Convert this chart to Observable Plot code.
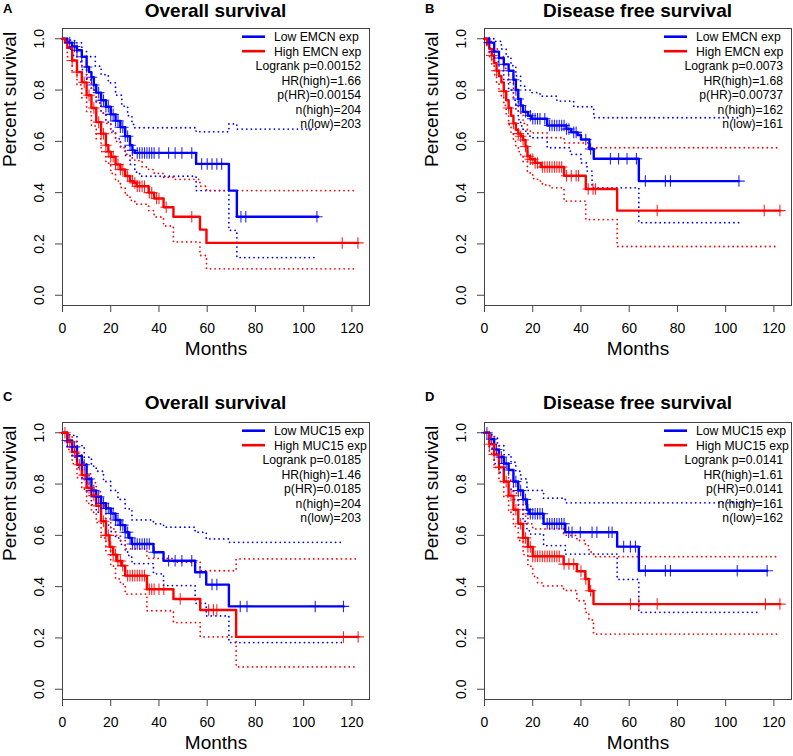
<!DOCTYPE html>
<html><head><meta charset="utf-8">
<script src="https://cdn.jsdelivr.net/npm/d3@7"></script>
<script src="https://cdn.jsdelivr.net/npm/@observablehq/plot@0.6"></script>
<style>
body{margin:0;background:#fff;}
#root{position:relative;width:793px;height:756px;overflow:hidden;background:#fff;font-family:"Liberation Sans",Arial,sans-serif;}
.panel{position:absolute;}
.title{position:absolute;font-weight:bold;font-size:19px;line-height:normal;text-align:center;white-space:nowrap;color:#000;}
.letter{position:absolute;font-weight:bold;font-size:13px;line-height:normal;color:#000;}
</style></head><body><div id="root"></div>
<script>
// ---------- texts ----------
const panelLetters = ["A", "B", "C", "D"];
const panelTitles = ["Overall survival", "Disease free survival", "Overall survival", "Disease free survival"];
const lowLabels = ["Low EMCN exp", "Low EMCN exp", "Low MUC15 exp", "Low MUC15 exp"];
const highLabels = ["High EMCN exp", "High EMCN exp", "High MUC15 exp", "High MUC15 exp"];
const statsA = ["Logrank p=0.00152", "HR(high)=1.66", "p(HR)=0.00154", "n(high)=204", "n(low)=203"];
const statsB = ["Logrank p=0.0073", "HR(high)=1.68", "p(HR)=0.00737", "n(high)=162", "n(low)=161"];
const statsC = ["Logrank p=0.0185", "HR(high)=1.46", "p(HR)=0.0185", "n(high)=204", "n(low)=203"];
const statsD = ["Logrank p=0.0141", "HR(high)=1.61", "p(HR)=0.0141", "n(high)=161", "n(low)=162"];
const xTicks = [0, 20, 40, 60, 80, 100, 120];
const yTicks = [0, 0.2, 0.4, 0.6, 0.8, 1.0];
const xLabel = "Months";
const yLabel = "Percent survival";

// ---------- panel A: Overall survival, EMCN ----------
const A_lowEst = [[0,1],[2,0.985],[4,0.97],[6,0.955],[8,0.93],[10,0.89],[11,0.87],[12,0.85],[13,0.82],[14,0.79],[16,0.76],[18,0.735],[20,0.705],[22,0.68],[24,0.655],[26,0.62],[28,0.585],[29,0.565],[30,0.555],[55.4,0.512],[69,0.408],[72.3,0.306],[106,0.306]];
const A_lowUp = [[0,1],[3,0.995],[5,0.984],[8,0.95],[10,0.93],[13.6,0.893],[16,0.86],[19,0.828],[22,0.78],[24.6,0.737],[27,0.7],[28.8,0.666],[30,0.653],[55.4,0.637],[69,0.668],[72.3,0.648],[106,0.648]];
const A_lowLo = [[0,1],[2,0.96],[4,0.935],[6,0.91],[8,0.88],[10,0.84],[12,0.8],[14,0.75],[16,0.71],[18,0.675],[20,0.64],[22,0.61],[24,0.58],[26,0.545],[28,0.51],[30,0.48],[32,0.464],[55.4,0.408],[69,0.253],[72.3,0.147],[106,0.147]];
const A_highEst = [[0,1],[1,0.985],[2,0.965],[4,0.915],[6,0.87],[8,0.83],[10,0.78],[12,0.73],[14,0.675],[16,0.63],[18,0.585],[19,0.56],[20,0.54],[22,0.51],[24,0.49],[26,0.465],[28,0.445],[29.4,0.438],[30.8,0.425],[35.7,0.40],[38,0.377],[41.9,0.343],[46,0.306],[57,0.256],[59.7,0.204],[122.5,0.204]];
const A_highUp = [[0,1],[2,0.99],[4,0.965],[6,0.93],[8,0.89],[10,0.845],[12,0.8],[14,0.75],[16,0.71],[18,0.67],[20,0.635],[22,0.6],[24,0.575],[26,0.55],[28,0.535],[30,0.525],[33,0.5],[35.7,0.49],[38,0.475],[41.9,0.46],[46,0.452],[57,0.425],[59.7,0.408],[121.5,0.408]];
const A_highLo = [[0,1],[2,0.93],[4,0.875],[6,0.82],[8,0.77],[10,0.715],[12,0.66],[14,0.61],[16,0.56],[18,0.515],[20,0.475],[22,0.445],[24,0.42],[26,0.39],[28,0.37],[30,0.355],[35.7,0.33],[38,0.305],[41.9,0.27],[46,0.208],[57,0.155],[59.7,0.103],[121.5,0.103]];
const A_lowCens = [3,5,6,8,10,12,13,15,16,17,18,19,20,21,22,23,24,25,26,27,28,29,31,32,33,34,35,36,37,38,40,44,46.7,49.5,53.6,57.7,60,62,64,66,74,76,105.5];
const A_highCens = [4,6,9,11,13,15,16,17,18,19,20,21,22,23,24,25,27,29,30,31,32,33,34,36,37,39,40,43,53.6,116,122.5];

// ---------- panel B: Disease free survival, EMCN ----------
const B_lowEst = [[0,1],[2,0.985],[4,0.95],[6,0.925],[8,0.9],[10,0.875],[12,0.84],[13,0.8],[14,0.765],[15,0.74],[16,0.715],[18,0.7],[19.5,0.688],[26,0.662],[34,0.648],[36,0.635],[38.6,0.625],[40,0.607],[43.5,0.57],[45.3,0.532],[64,0.445],[105.5,0.445]];
const B_lowUp = [[0,1],[4,0.99],[7,0.96],[9,0.93],[11,0.895],[13,0.855],[15,0.815],[17,0.8],[19,0.79],[23,0.776],[30,0.757],[37,0.735],[45.3,0.692],[105.5,0.692]];
const B_lowLo = [[0,1],[2,0.96],[4,0.91],[6,0.875],[8,0.84],[10,0.8],[12,0.76],[13,0.72],[14,0.685],[15,0.66],[16,0.64],[18,0.62],[19.5,0.614],[26,0.575],[35.6,0.549],[40,0.516],[42.5,0.484],[44.6,0.419],[64,0.283],[105.5,0.283]];
const B_highEst = [[0,1],[1,0.98],[2,0.96],[3,0.935],[4,0.905],[5,0.875],[6,0.855],[7,0.83],[8,0.795],[9,0.76],[10,0.73],[11,0.7],[12,0.67],[13,0.645],[14,0.63],[15,0.62],[16,0.605],[17,0.58],[17.8,0.542],[19,0.53],[21,0.516],[23.4,0.5],[33,0.466],[42,0.414],[55,0.33],[122.5,0.33]];
const B_highUp = [[0,1],[2,0.99],[4,0.96],[6,0.93],[8,0.885],[10,0.83],[12,0.77],[14,0.71],[16,0.67],[17.8,0.64],[19,0.633],[26,0.614],[33,0.594],[43,0.575],[121.5,0.575]];
const B_highLo = [[0,1],[1,0.97],[2,0.93],[3,0.895],[4,0.86],[5,0.83],[6,0.8],[7,0.77],[8,0.74],[9,0.7],[10,0.665],[11,0.63],[12,0.6],[13,0.58],[14,0.56],[15,0.54],[16,0.52],[17.8,0.477],[20,0.455],[22,0.445],[24,0.43],[27,0.419],[33,0.367],[42,0.295],[55,0.19],[121.5,0.19]];
const B_lowCens = [2,4,6,8,10,12,13,14,15,17,19,20,21,22,23,25,27,28,29,30,31,32,33,34,35,37,38,42,44,52.2,55.6,59.1,63,66.7,75,77.1,105.5];
const B_highCens = [3,5,8,10,12,14,15,16,17,18,19,20,21,22,24,25,26,27,28,29,30,31,32,34,36,38,39,43,45,46,71.6,116,122.5];

// ---------- panel C: Overall survival, MUC15 ----------
const C_lowEst = [[0,1],[2,0.97],[4,0.945],[6,0.91],[8,0.875],[10,0.82],[12,0.775],[14,0.75],[16,0.725],[18,0.705],[20,0.685],[22,0.66],[24,0.64],[26,0.612],[27.5,0.59],[28.8,0.566],[37.7,0.534],[41.9,0.501],[55,0.456],[59.6,0.408],[69,0.323],[116.6,0.323]];
const C_lowUp = [[0,1],[3,0.99],[6,0.95],[9,0.905],[12,0.87],[14,0.85],[17,0.81],[20,0.775],[23,0.74],[26,0.703],[28.8,0.66],[37.7,0.645],[41.9,0.632],[55,0.612],[59.6,0.586],[69,0.573],[116,0.573]];
const C_lowLo = [[0,1],[2,0.945],[4,0.905],[6,0.865],[8,0.825],[10,0.77],[12,0.72],[14,0.69],[16,0.665],[18,0.64],[20,0.615],[22,0.59],[24,0.565],[26,0.535],[27.5,0.515],[28.8,0.49],[37.7,0.45],[41.9,0.404],[55,0.335],[59.6,0.286],[69,0.182],[116,0.182]];
const C_highEst = [[0,1],[2,0.965],[4,0.925],[6,0.875],[8,0.835],[10,0.785],[12,0.755],[14,0.715],[16,0.655],[18,0.6],[19.5,0.555],[21,0.525],[22.5,0.5],[24.5,0.482],[26,0.443],[35,0.39],[46,0.352],[57.1,0.309],[72,0.204],[122.6,0.204]];
const C_highUp = [[0,1],[2,0.99],[4,0.965],[6,0.92],[8,0.885],[10,0.84],[12,0.805],[14,0.77],[16,0.715],[18,0.665],[20,0.625],[22,0.6],[24,0.58],[26,0.547],[35,0.51],[46,0.495],[57.1,0.462],[72,0.508],[122,0.508]];
const C_highLo = [[0,1],[2,0.935],[4,0.88],[6,0.825],[8,0.78],[10,0.725],[12,0.69],[14,0.65],[16,0.59],[18,0.54],[20,0.48],[22,0.43],[24,0.41],[26,0.371],[35,0.306],[46,0.26],[57.1,0.204],[72,0.087],[122,0.087]];
const C_lowCens = [2,4,5,6,8,9,10,11,12,13,14,15,16,17,18,19,20,21,22,23,24,25,26,27,28,29,30,31,32,33,34,35,36,38,44,46.7,49.5,53.6,57,62,64,73.7,76.5,104.8,116.5];
const C_highCens = [1,3,5,7,9,11,13,15,17,18,19,20,21,22,23,24,25,27,28,29,30,31,32,33,34,36,37,38,40,42,48.8,60.6,62.6,64,116.5,122.6];

// ---------- panel D: Disease free survival, MUC15 ----------
const D_lowEst = [[0,1],[2,0.975],[4,0.935],[6,0.905],[8,0.88],[10,0.855],[12,0.81],[14,0.775],[16,0.74],[17.6,0.7],[18.6,0.684],[24.5,0.645],[33.5,0.612],[55,0.556],[64,0.462],[117.2,0.462]];
const D_lowUp = [[0,1],[3,0.985],[5.4,0.95],[8,0.915],[11,0.885],[13,0.85],[15,0.82],[17.6,0.775],[24.5,0.745],[33.5,0.727],[114,0.727]];
const D_lowLo = [[0,1],[2,0.94],[4,0.88],[6,0.845],[8,0.81],[10,0.78],[12,0.74],[14,0.7],[16,0.655],[17.6,0.62],[18.6,0.605],[24.5,0.56],[33.5,0.527],[55,0.428],[64,0.3],[114,0.3]];
const D_highEst = [[0,1],[2,0.955],[4,0.915],[6,0.865],[8,0.81],[10,0.755],[12,0.7],[14,0.645],[16,0.59],[18,0.555],[20,0.518],[32.8,0.488],[38.3,0.46],[41.8,0.43],[43.3,0.384],[45.2,0.332],[122.5,0.332]];
const D_highUp = [[0,1],[2,0.985],[4,0.955],[6,0.91],[8,0.865],[10,0.815],[12,0.765],[14,0.72],[16,0.675],[18,0.645],[20,0.625],[32.8,0.6],[38.3,0.58],[41.8,0.56],[43.3,0.535],[45.2,0.517],[122,0.517]];
const D_highLo = [[0,1],[2,0.92],[4,0.865],[6,0.81],[8,0.75],[10,0.69],[12,0.635],[14,0.58],[16,0.525],[18,0.48],[20,0.44],[22,0.415],[24,0.403],[32.8,0.385],[38.3,0.345],[41.8,0.3],[43.3,0.27],[45.2,0.215],[122,0.215]];
const D_lowCens = [1,3,5,7,8,9,10,12,13,14,15,16,17,18,19,20,21,22,23,24,26,27,28,29,30,31,32,33,34.9,36.3,39.7,44.6,46.6,51.5,52.9,57.7,60.5,62.6,66.7,75,77.1,104.8,117.2];
const D_highCens = [2,4,6,9,11,13,15,16,17,18,19,20,21,22,23,24,25,26,27,28,29,30,31,33,35,37,40,42,44,60.5,64,71.6,116.5,122.5];

// ---------- assembly ----------
const FONT = '"Liberation Sans", Arial, sans-serif';
const LOW = "#0000ff", HIGH = "#ff0000";

const panels = [
  {left: 0,   top: 0,   low: [A_lowEst, A_lowUp, A_lowLo, A_lowCens], high: [A_highEst, A_highUp, A_highLo, A_highCens], stats: statsA},
  {left: 422, top: 0,   low: [B_lowEst, B_lowUp, B_lowLo, B_lowCens], high: [B_highEst, B_highUp, B_highLo, B_highCens], stats: statsB},
  {left: 0,   top: 394, low: [C_lowEst, C_lowUp, C_lowLo, C_lowCens], high: [C_highEst, C_highUp, C_highLo, C_highCens], stats: statsC},
  {left: 422, top: 394, low: [D_lowEst, D_lowUp, D_lowLo, D_lowCens], high: [D_highEst, D_highUp, D_highLo, D_highCens], stats: statsD}
];

function stepAt(curve, t) {
  let v = curve[0][1];
  for (const [m, s] of curve) { if (m <= t) v = s; else break; }
  return v;
}

function legendMark(lowText, highText, stats) {
  return (index, scales, values, dims) => {
    const R = dims.width - dims.marginRight, T = dims.marginTop;
    const g = d3.create("svg:g").attr("font-family", FONT).attr("font-size", 12.2).attr("fill", "#000");
    [[lowText, LOW, 8.7], [highText, HIGH, 23.2]].forEach(([t, c, dy]) => {
      g.append("line").attr("x1", R - 127).attr("x2", R - 104).attr("y1", T + dy).attr("y2", T + dy)
        .attr("stroke", c).attr("stroke-width", 2.6);
      g.append("text").attr("x", R - 95).attr("y", T + dy + 4.4).attr("text-anchor", "start").text(t);
    });
    stats.forEach((s, i) => g.append("text").attr("x", R - 8).attr("y", T + 42.2 + 14.5 * i)
      .attr("text-anchor", "end").text(s));
    return g.node();
  };
}

function curveMarks(set, color) {
  const [est, up, lo, cens] = set;
  const dotted = {x: d => d[0], y: d => d[1], curve: "step-after", stroke: color, strokeWidth: 1.8, strokeDasharray: "0.01 4.6", strokeLinecap: "round"};
  return {
    ci: [Plot.line(up, dotted), Plot.line(lo, dotted)],
    est: [Plot.line(est, {x: d => d[0], y: d => d[1], curve: "step-after", stroke: color, strokeWidth: 2.4})],
    cens: [Plot.dot(cens, {x: d => d, y: d => stepAt(est, d), symbol: "plus", r: 3.8, stroke: color, strokeWidth: 1.1, strokeOpacity: 0.85})]
  };
}

const root = document.getElementById("root");
panels.forEach((p, i) => {
  const lo = curveMarks(p.low, LOW), hi = curveMarks(p.high, HIGH);
  const chart = Plot.plot({
    width: 371, height: 362,
    marginLeft: 62, marginRight: 2, marginTop: 28, marginBottom: 57,
    x: {domain: [0, 127.3]},
    y: {domain: [-0.04, 1.04]},
    style: {fontFamily: FONT, background: "transparent", color: "#000", overflow: "visible"},
    marks: [
      Plot.frame({stroke: "#444"}),
      Plot.axisX(xTicks, {tickSize: 7, tickPadding: 11, fontSize: 14, label: null, stroke: "#444", fill: "#000"}),
      Plot.axisY(yTicks, {tickSize: 7, tickFormat: () => "", label: null, stroke: "#444"}),
      Plot.text(yTicks, {y: d => d, text: d => d.toFixed(1), frameAnchor: "left", rotate: -90, dx: -23, fontSize: 14, textAnchor: "middle", fill: "#000"}),
      Plot.text([yLabel], {text: d => d, frameAnchor: "left", rotate: -90, dx: -53, fontSize: 19, fill: "#000"}),
      Plot.text([xLabel], {text: d => d, frameAnchor: "bottom", dy: 49, fontSize: 19, fill: "#000"}),
      ...lo.ci, ...hi.ci,
      ...lo.est, ...hi.est,
      ...lo.cens, ...hi.cens,
      legendMark(lowLabels[i], highLabels[i], p.stats)
    ]
  });
  chart.classList.add("panel");
  chart.style.left = p.left + "px";
  chart.style.top = p.top + "px";
  root.appendChild(chart);

  const title = document.createElement("div");
  title.className = "title";
  title.textContent = panelTitles[i];
  title.style.left = (p.left + 62) + "px";
  title.style.width = "307px";
  title.style.top = (i >= 2 ? p.top - 2 : p.top) + "px";
  root.appendChild(title);

  const letter = document.createElement("div");
  letter.className = "letter";
  letter.textContent = panelLetters[i];
  letter.style.left = (p.left + 3) + "px";
  letter.style.top = (i >= 2 ? p.top - 5 : p.top + 1) + "px";
  root.appendChild(letter);
});
</script></body></html>
